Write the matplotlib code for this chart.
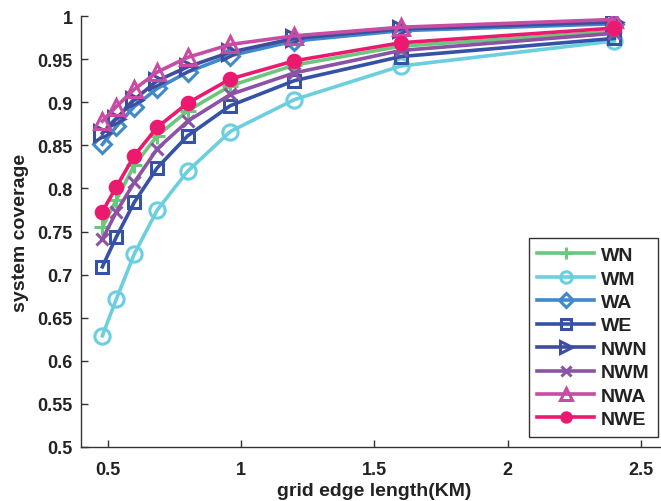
import matplotlib
matplotlib.use("Agg")
import matplotlib.pyplot as plt

plt.rcParams['font.family'] = ['Liberation Sans', 'DejaVu Sans']
plt.rcParams['font.weight'] = 'bold'

x = [0.48, 0.533, 0.6, 0.686, 0.8, 0.96, 1.2, 1.6, 2.4]

WN  = [0.755, 0.787, 0.827, 0.861, 0.890, 0.919, 0.943, 0.965, 0.982]
WM  = [0.629, 0.672, 0.724, 0.775, 0.820, 0.866, 0.903, 0.942, 0.971]
WA  = [0.851, 0.872, 0.895, 0.916, 0.935, 0.954, 0.971, 0.983, 0.991]
WE  = [0.709, 0.744, 0.784, 0.824, 0.861, 0.896, 0.925, 0.953, 0.974]
NWN = [0.864, 0.881, 0.903, 0.925, 0.941, 0.958, 0.974, 0.985, 0.993]
NWM = [0.741, 0.773, 0.807, 0.846, 0.878, 0.909, 0.934, 0.960, 0.980]
NWA = [0.878, 0.895, 0.915, 0.935, 0.952, 0.967, 0.977, 0.987, 0.996]
NWE = [0.773, 0.802, 0.838, 0.871, 0.899, 0.927, 0.948, 0.969, 0.986]

names = ['WN', 'WM', 'WA', 'WE', 'NWN', 'NWM', 'NWA', 'NWE']
series = [WN, WM, WA, WE, NWN, NWM, NWA, NWE]
colors = ['#6cc77c', '#6ccfdf', '#3f8acb', '#3552a5', '#3f4d9f', '#8b52a6', '#c84ca3', '#ec1a6e']
markers = ['+', 'o', 'D', 's', '>', 'x', '^', 'o']
msizes = [11, 11, 9, 9, 11, 9, 12, 9]
filled = [False, False, False, False, False, False, False, True]

fig = plt.figure(figsize=(6.61, 5.02), dpi=100)
axw = (667.7 - 81) / 661
axh = (448 - 17) / 502
ax = fig.add_axes([81/661, 1-448/502, axw, axh])

for name, ys, c, m, ms, f in zip(names, series, colors, markers, msizes, filled):
    ax.plot(x, ys, color=c, lw=2.6, marker=m, ms=ms,
            mfc=c if f else 'none', mec=c, mew=2.2, label=name)

ax.set_xlim(0.4, 2.6)
ax.set_ylim(0.5, 1.0)
ax.set_xticks([0.5, 1, 1.5, 2, 2.5])
ax.set_xticklabels(['0.5', '1', '1.5', '2', '2.5'])
ax.set_yticks([0.5, 0.55, 0.6, 0.65, 0.7, 0.75, 0.8, 0.85, 0.9, 0.95, 1.0])
ax.set_yticklabels(['0.5', '0.55', '0.6', '0.65', '0.7', '0.75', '0.8', '0.85', '0.9', '0.95', '1'])
ax.spines['top'].set_visible(False)
ax.spines['right'].set_visible(False)
for s in ['left', 'bottom']:
    ax.spines[s].set_color('#333333')
    ax.spines[s].set_linewidth(1.0)
ax.tick_params(direction='in', length=5, width=1, color='#333333',
               labelsize=13, labelcolor='#222222')
ax.tick_params(axis='x', pad=10)
ax.tick_params(axis='y', pad=6)
for lab in ax.get_xticklabels() + ax.get_yticklabels():
    lab.set_fontweight('bold')

ax.set_xlabel('grid edge length(KM)', fontsize=14, fontweight='bold', color='#222222', labelpad=3)
ax.set_ylabel('system coverage', fontsize=14, fontweight='bold', color='#222222', labelpad=6)

leg = ax.legend(loc='lower right', bbox_to_anchor=((658-81)/(667.7-81), 10/431),
                borderaxespad=0, prop={'weight': 'bold', 'size': 14},
                handlelength=2.9, handletextpad=0.35, labelspacing=0.3,
                borderpad=0.45, markerscale=0.75, frameon=True, fancybox=False, framealpha=1)
leg.get_frame().set_edgecolor('#333333')
leg.get_frame().set_linewidth(1.0)
for t in leg.get_texts():
    t.set_color('#222222')

fig.savefig('out.png', dpi=100)
